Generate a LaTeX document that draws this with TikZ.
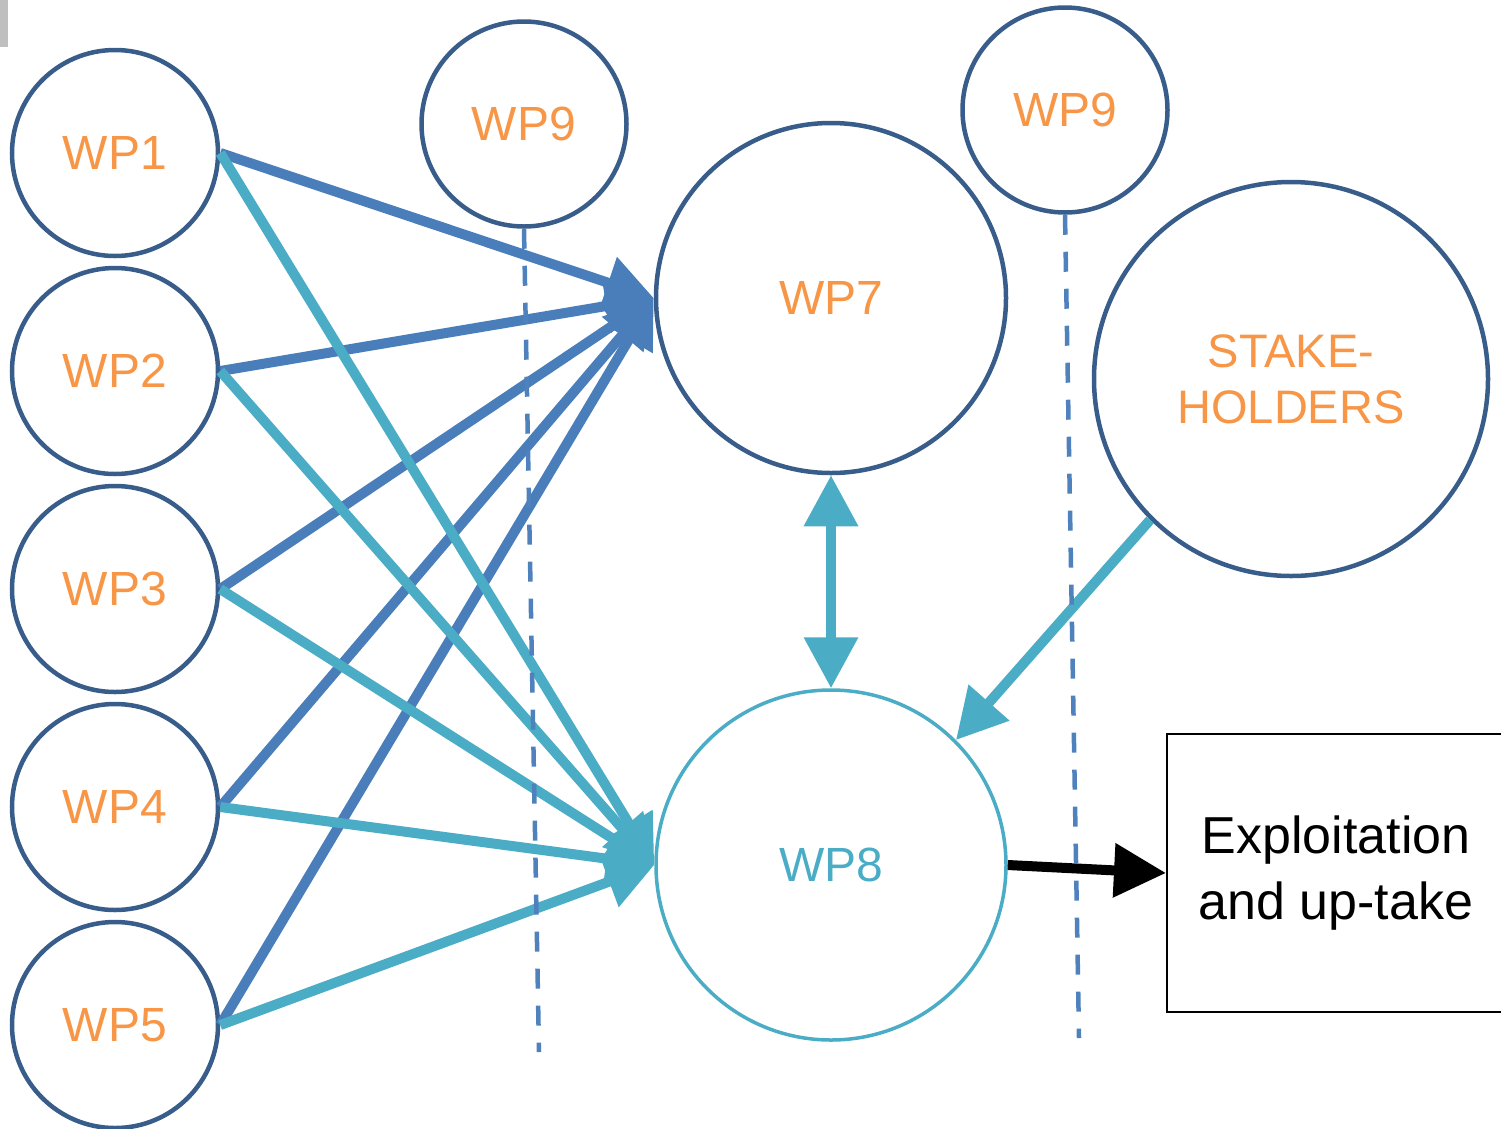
\documentclass[tikz,border=0pt]{standalone}
\usepackage{fontspec}
\setmainfont{Liberation Sans}
\usetikzlibrary{arrows.meta}
\definecolor{cstroke}{HTML}{385D8A}
\definecolor{darkarr}{HTML}{4A7EBB}
\definecolor{lightarr}{HTML}{4BACC6}
\definecolor{orangetxt}{HTML}{F79646}
\definecolor{dashcol}{HTML}{4F81BD}
\tikzset{
  wpcircle/.style={circle, draw=cstroke, line width=4.5pt, inner sep=0pt,
    minimum size=#1, text=orangetxt, font=\fontsize{48}{58}\selectfont},
  darkline/.style={draw=darkarr, line width=10pt,
    -{Triangle[length=48pt,width=52pt]}},
  lightline/.style={draw=lightarr, line width=10pt,
    -{Triangle[length=48pt,width=52pt]}},
  dashline/.style={draw=dashcol, line width=4.5pt, dash pattern=on 20pt off 17pt},
}
\begin{document}
\begin{tikzpicture}[x=1pt,y=-1pt]
\useasboundingbox (0,0) rectangle (1501,1128);
\clip (0,0) rectangle (1501,1128);
\fill[fill={rgb,255:red,191;green,191;blue,191}] (0,0) rectangle (8,47);

\node[wpcircle=206pt] (wp1) at (115,153) {WP1};
\node[wpcircle=206pt] (wp2) at (115,371) {WP2};
\node[wpcircle=206pt] (wp3) at (115,589) {WP3};
\node[wpcircle=206pt] (wp4) at (115,807) {WP4};
\node[wpcircle=206pt] (wp5) at (115,1025) {WP5};
\node[wpcircle=205pt] (wp9a) at (524,124) {WP9};
\node[wpcircle=205pt] (wp9b) at (1065,110) {WP9};
\node[wpcircle=350pt] (wp7) at (831,298) {WP7};
\node[wpcircle=394pt, align=center, font=\fontsize{47}{56}\selectfont] (sh) at (1291,379) {STAKE-\\HOLDERS};
\node[circle, draw=lightarr, line width=3.5pt, inner sep=0pt, minimum size=350pt,
  text=lightarr, font=\fontsize{48}{58}\selectfont] (wp8) at (831,865) {WP8};
\node[draw=black, line width=2pt, minimum width=338pt, minimum height=278pt,
  align=center, inner sep=0pt, font=\fontsize{52}{66}\selectfont] (box) at (1336,873)
  {Exploitation\\and up-take};

\coordinate (d1end) at (539,1052);
\coordinate (d2end) at (1079,1038);

% dark arrows to WP7
\draw[darkline] (wp1.east) -- (wp7.west);
\draw[darkline] (wp2.east) -- (wp7.west);
\draw[darkline] (wp3.east) -- (wp7.west);
\draw[darkline] (wp4.east) -- (wp7.west);
\draw[darkline] (wp5.east) -- (wp7.west);
% light arrows to WP8
\draw[lightline] (wp1.east) -- (wp8.west);
\draw[lightline] (wp2.east) -- (wp8.west);
\draw[lightline] (wp3.east) -- (wp8.west);
\draw[lightline] (wp4.east) -- (wp8.west);
\draw[lightline] (wp5.east) -- (wp8.west);

\draw[draw=lightarr, line width=10pt,
  {Triangle[length=51pt,width=52pt]}-{Triangle[length=51pt,width=52pt]}]
  (wp7.south) -- (wp8.north);
\draw[draw=lightarr, line width=10pt, -{Triangle[length=50pt,width=52pt]}]
  (sh.south west) -- (wp8.north east);
\draw[draw=black, line width=10pt, -{Triangle[length=52pt,width=52pt]}]
  (wp8.east) -- (box.west);

\draw[dashline] (wp9a.south) -- (d1end);
\draw[dashline] (wp9b.south) -- (d2end);
\end{tikzpicture}
\end{document}
